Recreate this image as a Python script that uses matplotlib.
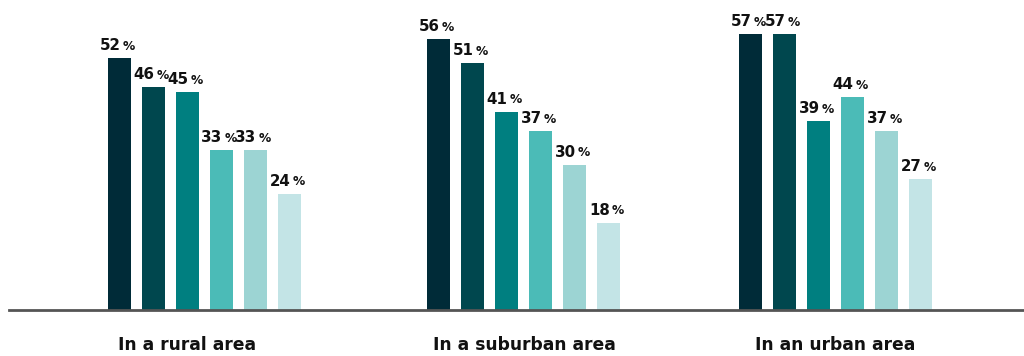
import matplotlib
matplotlib.use('Agg')
import matplotlib.pyplot as plt

plt.rcParams['font.family'] = ['DejaVu Sans']

# Survey shares by area type, one value per response bar
categories = ['In a rural area', 'In a suburban area', 'In an urban area']
rural = [52, 46, 45, 33, 33, 24]
suburban = [56, 51, 41, 37, 30, 18]
urban = [57, 57, 39, 44, 37, 27]
values = [rural, suburban, urban]

colors = ['#002b38', '#00474e', '#007f80', '#4bbbb7', '#9cd4d3', '#c3e4e6']

# Layout in pixel-like units along x
group_start = [119.5, 438.5, 750.5]
label_x = [187, 524, 835]
pitch = 34
bar_w = 23

fig = plt.figure(figsize=(10.24, 3.56), dpi=100)
ax = fig.add_axes([9 / 1024, 46 / 356, 1 - 9 / 1024, 310 / 356])
ax.set_xlim(9, 1024)
ax.set_ylim(0, 310 / 4.84)

for g, vals in enumerate(values):
    xs = [group_start[g] + i * pitch for i in range(len(vals))]
    ax.bar(xs, vals, width=bar_w, color=colors, zorder=2)
    for x, v in zip(xs, vals):
        ax.annotate(str(v), (x, v), xytext=(0.8, 3.5), textcoords='offset points',
                    ha='right', va='bottom', fontsize=10.8, fontweight='bold',
                    color='#111111')
        ax.annotate('%', (x, v), xytext=(2.6, 3.9), textcoords='offset points',
                    ha='left', va='bottom', fontsize=8.8, fontweight='bold',
                    color='#111111')
    ax.text(label_x[g], -35 / 4.84, categories[g], ha='center', va='center',
            fontsize=12.3, fontweight='bold', color='#111111')

for side in ['top', 'right', 'left']:
    ax.spines[side].set_visible(False)
ax.spines['bottom'].set_color('#555555')
ax.spines['bottom'].set_linewidth(2)
ax.set_xticks([])
ax.set_yticks([])
ax.patch.set_alpha(0)

fig.savefig('out.png', dpi=100)
